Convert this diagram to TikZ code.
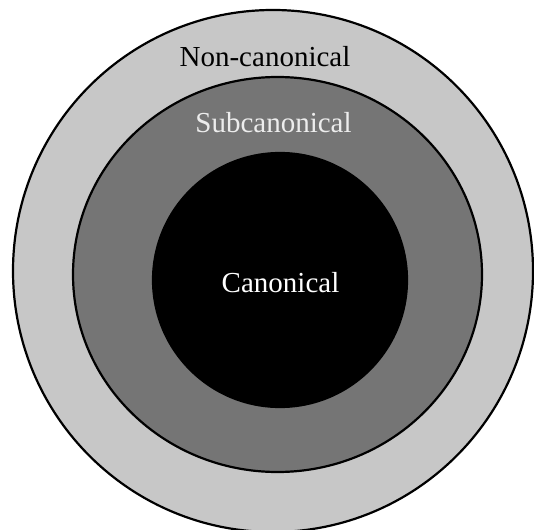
\documentclass[tikz,border=0pt]{standalone}
\usepackage{fontspec}
\setmainfont{Liberation Serif}
\usetikzlibrary{shapes.geometric,positioning}
\definecolor{OuterGray}{gray}{0.78}
\definecolor{MidGray}{gray}{0.46}
\definecolor{LabelGray}{gray}{0.93}
\tikzset{
  ring/.style={ellipse, draw=black, line width=2.2pt, inner sep=0pt},
  ringlabel/.style={font=\fontsize{29}{34}\selectfont, inner sep=0pt, anchor=base}
}

\begin{document}
\begin{tikzpicture}[x=1pt,y=-1pt]
\useasboundingbox (0,0) rectangle (534,529);
\clip (0,0) rectangle (534,529);
% nested regions, outside in
\node[ring, fill=OuterGray, minimum width=520pt, minimum height=522pt] (noncanon) at (273,271) {};
\node[ring, fill=MidGray, minimum width=409pt, minimum height=395pt] (subcanon) at (277.5,274.5) {};
\node[ring, fill=black, minimum width=254pt, minimum height=254pt] (canon) at (280,280) {};
% labels
\node[ringlabel, text=black] (noncanonlbl) at (265,67) {Non-canonical};
\node[ringlabel, text=LabelGray] (subcanonlbl) at (273.5,133) {Subcanonical};
\node[ringlabel, text=white] (canonlbl) at (280.5,292) {Canonical};
\end{tikzpicture}
\end{document}
